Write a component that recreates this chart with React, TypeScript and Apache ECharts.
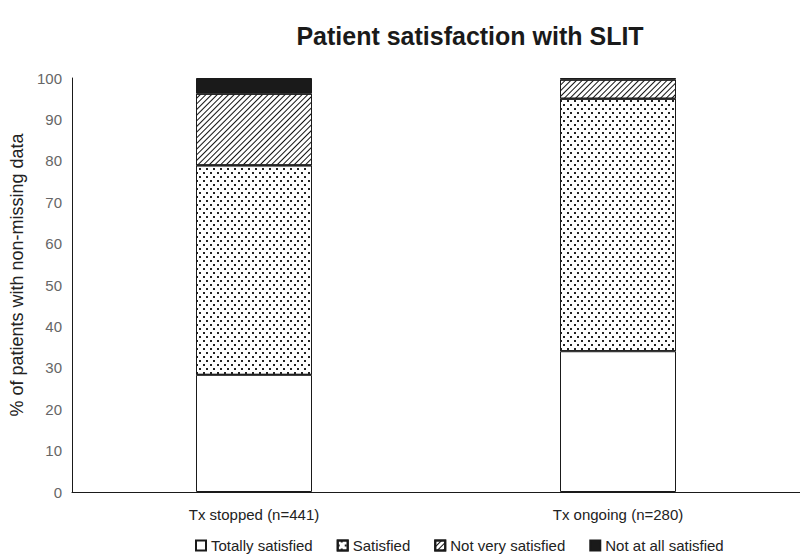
import React, { useEffect, useRef } from "react";
import * as echarts from "echarts";

const categories = ["Tx stopped (n=441)", "Tx ongoing (n=280)"];
const totallySatisfied = [28.3, 34.0];
const satisfied = [50.6, 61.0];
const notVerySatisfied = [17.3, 4.6];
const notAtAllSatisfied = [3.8, 0.4];
const yTicks = { min: 0, max: 100, interval: 10 };

const FONT = "'Liberation Sans', Arial, Helvetica, sans-serif";

export default function App() {
  const ref = useRef<HTMLDivElement>(null);
  useEffect(() => {
    document.body.style.margin = "0";
    const chart = echarts.init(ref.current!, null, { renderer: "svg" });
    const border = { borderColor: "#1a1a1a", borderWidth: 1 };
    const dotDecal = {
      symbol: "rect",
      symbolSize: 1,
      color: "#222",
      backgroundColor: "#ffffff",
      dashArrayX: [[1.1, 4.9], [0, 3, 1.1, 1.9]],
      dashArrayY: [1.1, 1.9],
      rotation: 0,
    };
    const hatchDecal = {
      symbol: "rect",
      symbolSize: 1,
      color: "#111",
      backgroundColor: "#ffffff",
      dashArrayX: [1, 0],
      dashArrayY: [0.9, 2.5],
      rotation: -Math.PI / 4,
    };
    chart.setOption({
      animation: false,
      aria: { enabled: true, decal: { show: false } },
      title: {
        text: "Patient satisfaction with SLIT",
        left: 465,
        textAlign: "center",
        top: 18,
        textStyle: { fontFamily: FONT, fontSize: 25, fontWeight: "bold", color: "#1a1a1a" },
      },
      legend: {
        bottom: 0,
        left: 190,
        itemWidth: 10,
        itemHeight: 10,
        itemGap: 24,
        icon: "rect",
        textStyle: { fontFamily: FONT, fontSize: 15, color: "#222" },
        data: ["Totally satisfied", "Satisfied", "Not very satisfied", "Not at all satisfied"],
      },
      grid: { left: 72, right: -12, top: 78, bottom: 66, containLabel: false },
      xAxis: {
        type: "category",
        data: categories,
        axisLine: { show: true, lineStyle: { color: "#1a1a1a", width: 1 } },
        axisTick: { show: false },
        axisLabel: { fontFamily: FONT, fontSize: 15, color: "#222", margin: 15 },
      },
      yAxis: {
        type: "value",
        min: yTicks.min,
        max: yTicks.max,
        interval: yTicks.interval,
        name: "% of patients with non-missing data",
        nameLocation: "middle",
        nameGap: 44,
        nameTextStyle: { fontFamily: FONT, fontSize: 18, color: "#222", padding: [0, 0, 0, 20] },
        axisLine: { show: true, lineStyle: { color: "#1a1a1a", width: 1 } },
        axisTick: { show: false },
        splitLine: { show: false },
        axisLabel: { fontFamily: FONT, fontSize: 15, color: "#666", margin: 10 },
      },
      series: [
        {
          name: "Totally satisfied",
          type: "bar",
          stack: "s",
          barWidth: 116,
          data: totallySatisfied,
          itemStyle: { color: "#ffffff", ...border },
        },
        {
          name: "Satisfied",
          type: "bar",
          stack: "s",
          barWidth: 116,
          data: satisfied,
          itemStyle: { color: "#ffffff", decal: dotDecal, ...border },
        },
        {
          name: "Not very satisfied",
          type: "bar",
          stack: "s",
          barWidth: 116,
          data: notVerySatisfied,
          itemStyle: { color: "#ffffff", decal: hatchDecal, ...border },
        },
        {
          name: "Not at all satisfied",
          type: "bar",
          stack: "s",
          barWidth: 116,
          data: notAtAllSatisfied,
          itemStyle: { color: "#1a1a1a", ...border },
        },
      ],
    });
    return () => chart.dispose();
  }, []);
  return <div ref={ref} style={{ width: 800, height: 558 }} />;
}
